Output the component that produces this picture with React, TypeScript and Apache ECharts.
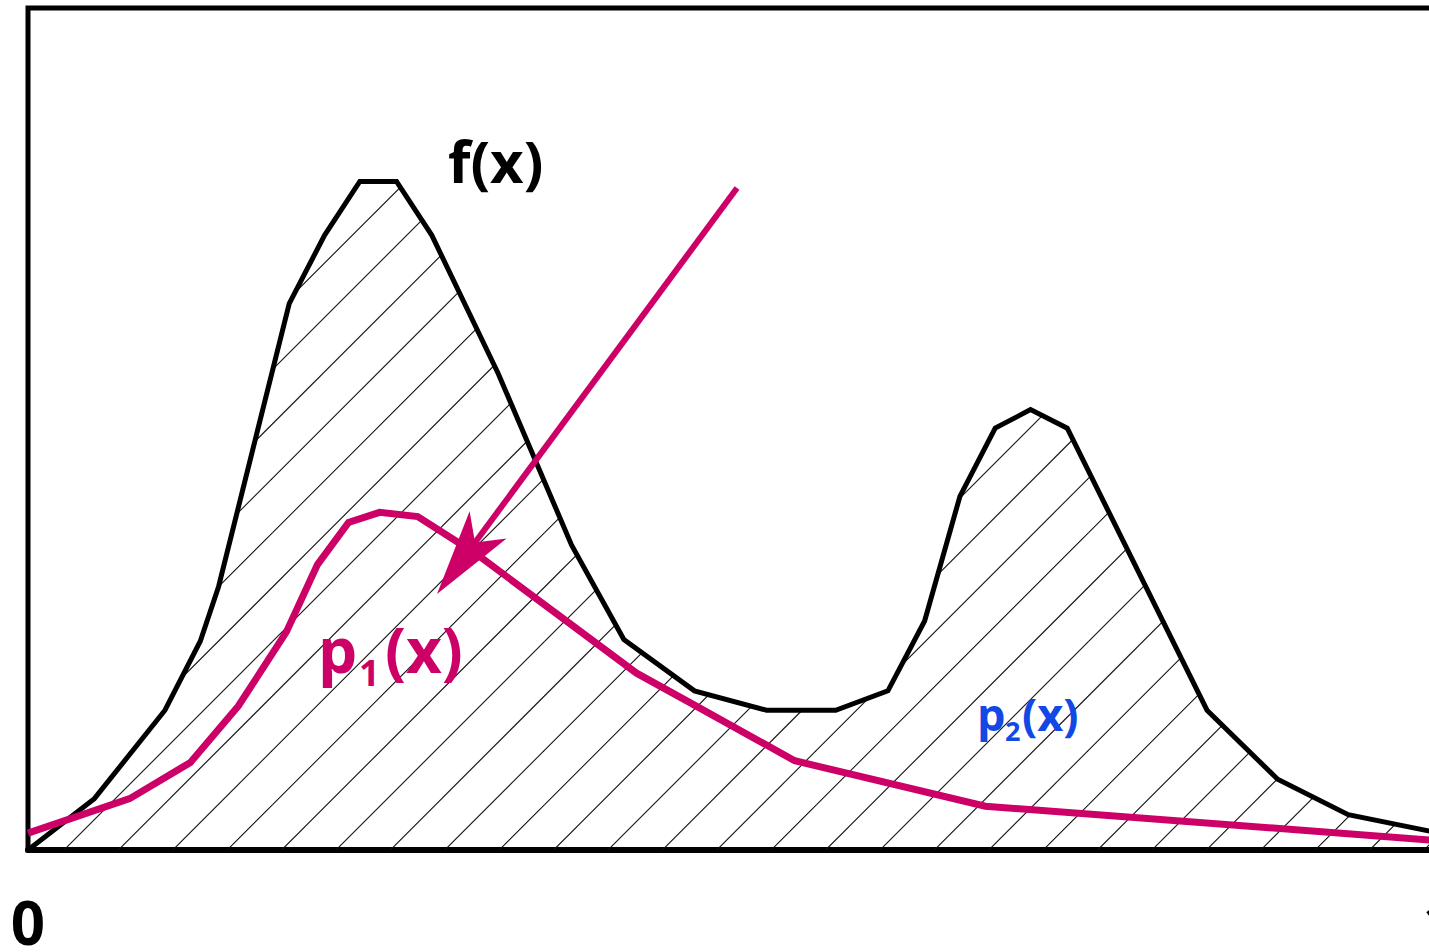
import React, { useEffect, useRef } from "react";
import * as echarts from "echarts";

// f(x): the target density (x in [0,1], height relative to the plot box)
const fX = [0, 0.047, 0.097, 0.122, 0.135, 0.185, 0.21, 0.235, 0.261, 0.286, 0.333, 0.385, 0.422, 0.472, 0.523, 0.572, 0.609, 0.635, 0.66, 0.685, 0.71, 0.736, 0.835, 0.885, 0.935, 1.0];
const fY = [0, 0.061, 0.166, 0.248, 0.313, 0.649, 0.73, 0.794, 0.794, 0.73, 0.566, 0.362, 0.25, 0.189, 0.166, 0.166, 0.189, 0.272, 0.42, 0.501, 0.523, 0.501, 0.166, 0.084, 0.042, 0.02];

// p1(x): the proposal density
const p1X = [0, 0.072, 0.115, 0.149, 0.183, 0.205, 0.227, 0.249, 0.276, 0.318, 0.431, 0.472, 0.543, 0.678, 1.0];
const p1Y = [0.02, 0.061, 0.104, 0.171, 0.259, 0.339, 0.389, 0.401, 0.396, 0.351, 0.21, 0.172, 0.106, 0.052, 0.011];

// x-axis tick labels
const xTicks = [0, 1];

const MAGENTA = "#cc0066";
const BLUE = "#1248e4";
const FONT = "'Open Sans', 'DejaVu Sans', sans-serif";

function makeHatch(): HTMLCanvasElement {
  // 45° hatch, 54.4px horizontal spacing; tile = 5 spacings so it repeats seamlessly
  const step = 54.4;
  const tile = 272;
  const c = document.createElement("canvas");
  c.width = tile;
  c.height = tile;
  const ctx = c.getContext("2d")!;
  ctx.strokeStyle = "#111";
  ctx.lineWidth = 1.1;
  for (let k = -2; k <= 11; k++) {
    const s = 43.6 + step * k;
    ctx.beginPath();
    ctx.moveTo(s + 10, -10);
    ctx.lineTo(s - tile - 10, tile + 10);
    ctx.stroke();
  }
  return c;
}

export default function App() {
  const ref = useRef<HTMLDivElement>(null);

  useEffect(() => {
    if (!ref.current) return;
    const chart = echarts.init(ref.current, null, { renderer: "svg" });
    const hatch = makeHatch();

    // arrow pointing at p1(x)
    const tail = [737, 188];
    const tip = [437, 594];
    const dx = tip[0] - tail[0];
    const dy = tip[1] - tail[1];
    const len = Math.hypot(dx, dy);
    const ux = dx / len;
    const uy = dy / len;
    const nx = -uy;
    const ny = ux;
    const headLen = 86;
    const halfW = 23;
    const notch = 64;
    const bx = tip[0] - headLen * ux;
    const by = tip[1] - headLen * uy;
    const head = [
      [tip[0], tip[1]],
      [bx + halfW * nx, by + halfW * ny],
      [tip[0] - notch * ux, tip[1] - notch * uy],
      [bx - halfW * nx, by - halfW * ny],
    ];

    const mainText = (text: string, x: number, y: number, size: number, color: string) => ({
      type: "text",
      x,
      y,
      z: 100,
      style: {
        text,
        fill: color,
        font: `bold ${size}px ${FONT}`,
        textAlign: "left",
        textVerticalAlign: "middle",
      },
    });

    chart.setOption({
      animation: false,
      backgroundColor: "#ffffff",
      grid: {
        left: 28,
        top: 8,
        right: 30,
        bottom: 100,
        show: true,
        borderColor: "#000",
        borderWidth: 5,
      },
      xAxis: {
        type: "value",
        min: 0,
        max: 1,
        interval: 1,
        axisLine: { show: true, lineStyle: { color: "#000", width: 6 } },
        axisTick: { show: false },
        splitLine: { show: false },
        axisLabel: {
          show: true,
          showMinLabel: true,
          showMaxLabel: true,
          margin: 42,
          color: "#000",
          fontSize: 60,
          lineHeight: 60,
          fontWeight: "bold",
          fontFamily: FONT,
          formatter: (v: number) => (xTicks.includes(v) ? String(v) : ""),
        },
      },
      yAxis: { type: "value", min: 0, max: 1, show: false },
      series: [
        {
          name: "f(x)",
          type: "line",
          data: fX.map((x, i) => [x, fY[i]]),
          symbol: "none",
          z: 2,
          lineStyle: { color: "#000", width: 5, join: "miter" },
          areaStyle: {
            color: { image: hatch, repeat: "repeat" },
            opacity: 1,
          },
        },
        {
          name: "p1(x)",
          type: "line",
          data: p1X.map((x, i) => [x, p1Y[i]]),
          symbol: "none",
          z: 3,
          lineStyle: { color: MAGENTA, width: 7, join: "miter" },
        },
      ],
      graphic: [
        {
          type: "line",
          z: 90,
          shape: { x1: tail[0], y1: tail[1], x2: tip[0] - notch * ux + 4 * ux, y2: tip[1] - notch * uy + 4 * uy },
          style: { stroke: MAGENTA, lineWidth: 6 },
        },
        {
          type: "polygon",
          z: 91,
          shape: { points: head },
          style: { fill: MAGENTA },
        },
        mainText("f(x)", 448, 160, 58, "#000"),
        mainText("p", 318, 649, 62, MAGENTA),
        mainText("1", 359, 672, 36, MAGENTA),
        mainText("(x)", 385, 649, 62, MAGENTA),
        mainText("p", 977, 713, 45, BLUE),
        mainText("2", 1005, 730, 27, BLUE),
        mainText("(x)", 1022, 713, 45, BLUE),
      ],
    });

    return () => chart.dispose();
  }, []);

  return (
    <div style={{ position: "fixed", left: 0, top: 0, width: 1429, height: 952, overflow: "hidden", background: "#fff" }}>
      <div ref={ref} style={{ width: 1470, height: 952 }} />
    </div>
  );
}
